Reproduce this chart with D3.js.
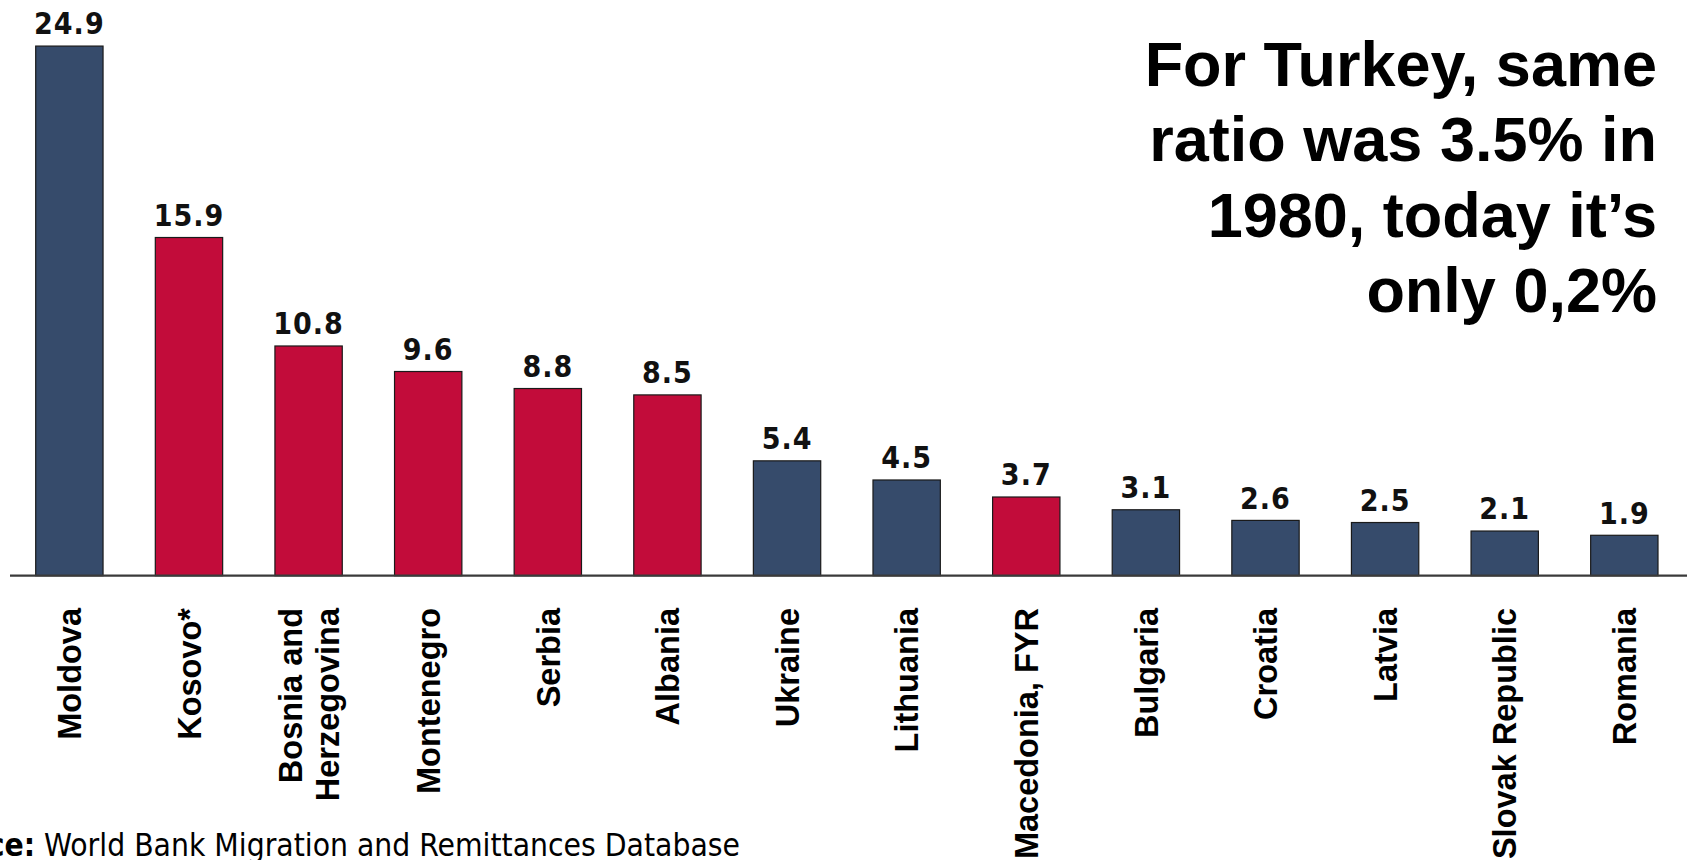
<!DOCTYPE html>
<html>
<head>
<meta charset="utf-8">
<script src="https://cdn.jsdelivr.net/npm/d3@7"></script>
<style>
  html, body { margin: 0; padding: 0; background: #fff; }
  svg { display: block; }
</style>
</head>
<body>
<svg id="chart" width="1687" height="860"></svg>
<script>
const categories = ["Moldova", "Kosovo*", "Bosnia and Herzegovina", "Montenegro", "Serbia", "Albania",
  "Ukraine", "Lithuania", "Macedonia, FYR", "Bulgaria", "Croatia", "Latvia", "Slovak Republic", "Romania"];
const labelLines = [["Moldova"], ["Kosovo*"], ["Bosnia and", "Herzegovina"], ["Montenegro"], ["Serbia"], ["Albania"],
  ["Ukraine"], ["Lithuania"], ["Macedonia, FYR"], ["Bulgaria"], ["Croatia"], ["Latvia"], ["Slovak Republic"], ["Romania"]];
const values = [24.9, 15.9, 10.8, 9.6, 8.8, 8.5, 5.4, 4.5, 3.7, 3.1, 2.6, 2.5, 2.1, 1.9];
const groups = ["other", "wb", "wb", "wb", "wb", "wb", "other", "other", "wb", "other", "other", "other", "other", "other"];
const noteLines = ["For Turkey, same", "ratio was 3.5% in", "1980, today it\u2019s", "only 0,2%"];
const sourceBold = "Source:";
const sourceText = " World Bank Migration and Remittances Database";

const colors = { other: "#364B6B", wb: "#C20C3A" };

const svg = d3.select("#chart");
const baseY = 575.7;

const x = d3.scaleBand().domain(categories).range([35.7, 1658]).paddingInner(0.437).paddingOuter(0);
const y = d3.scaleLinear().domain([0, 25]).range([baseY, baseY - 25 * 21.27]);

const data = categories.map((c, i) => ({ c, v: values[i], g: groups[i], lines: labelLines[i] }));

// bars
svg.append("g").selectAll("rect").data(data).join("rect")
  .attr("x", d => x(d.c))
  .attr("y", d => y(d.v))
  .attr("width", x.bandwidth())
  .attr("height", d => y(0) - y(d.v))
  .attr("fill", d => colors[d.g])
  .attr("stroke", "#1a1a1a")
  .attr("stroke-width", 1.2);

// baseline
svg.append("line")
  .attr("x1", 10).attr("x2", 1687)
  .attr("y1", baseY).attr("y2", baseY)
  .attr("stroke", "#3a3a3a").attr("stroke-width", 2.2);

// value labels
svg.append("g").selectAll("text").data(data).join("text")
  .attr("x", d => x(d.c) + x.bandwidth() / 2)
  .attr("y", d => y(d.v) - 11.7)
  .attr("text-anchor", "middle")
  .style("font-family", "'DejaVu Sans Condensed', 'DejaVu Sans', sans-serif")
  .style("font-stretch", "condensed")
  .style("font-weight", "bold")
  .style("font-size", "30px")
  .style("letter-spacing", "1px")
  .attr("fill", "#111")
  .text(d => d.v.toFixed(1));

// category labels (rotated)
const cat = svg.append("g").selectAll("text").data(data).join("text")
  .attr("transform", d => `translate(${x(d.c) + x.bandwidth() / 2},608) rotate(-90)`)
  .attr("text-anchor", "end")
  .style("font-family", "'Liberation Sans', Arial, sans-serif")
  .style("font-weight", "bold")
  .style("font-size", "32.5px")
  .attr("fill", "#000");
cat.selectAll("tspan").data(d => d.lines.map((t, i) => ({ t, i, n: d.lines.length }))).join("tspan")
  .attr("x", 0)
  .attr("y", d => 11.7 + (d.i - (d.n - 1) / 2) * 37)
  .text(d => d.t);

// annotation
svg.append("g").selectAll("text").data(noteLines).join("text")
  .attr("x", 1657)
  .attr("y", (d, i) => 86 + i * 75.3)
  .attr("text-anchor", "end")
  .style("font-family", "'Liberation Sans', Arial, sans-serif")
  .style("font-weight", "bold")
  .style("font-size", "63px")
  .attr("fill", "#000")
  .text(d => d);

// source
const src = svg.append("text")
  .attr("x", 740).attr("y", 856)
  .attr("text-anchor", "end")
  .style("font-family", "'DejaVu Sans Condensed', 'DejaVu Sans', sans-serif")
  .style("font-stretch", "condensed")
  .style("font-size", "31.5px")
  .attr("fill", "#000");
src.append("tspan").style("font-weight", "bold").text(sourceBold);
src.append("tspan").text(sourceText);
</script>
</body>
</html>
